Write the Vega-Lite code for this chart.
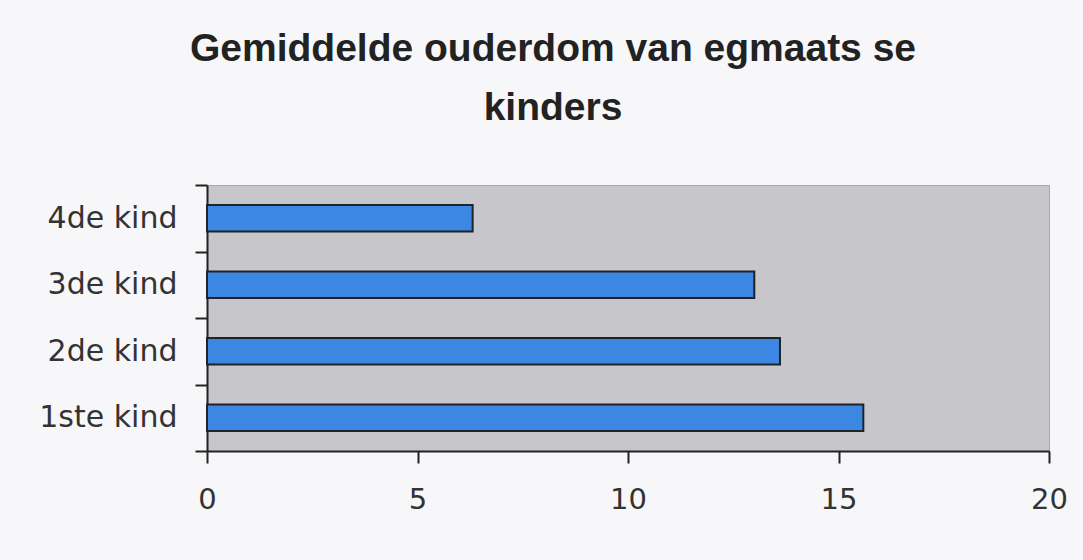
{
  "$schema": "https://vega.github.io/schema/vega-lite/v6.json",
  "width": 842,
  "height": 266,
  "autosize": {"type": "none"},
  "padding": {"left": 207, "top": 185, "right": 34, "bottom": 109},
  "background": "#f7f7f9",
  "title": {
    "text": ["Gemiddelde ouderdom van egmaats se", "kinders"],
    "font": "Liberation Sans",
    "fontSize": 39,
    "fontWeight": "bold",
    "color": "#222222",
    "lineHeight": 59,
    "anchor": "middle",
    "dx": -75,
    "baseline": "alphabetic",
    "offset": 11
  },
  "data": {
    "values": [
      {"kind": "1ste kind", "ouderdom": 15.59},
      {"kind": "2de kind", "ouderdom": 13.61},
      {"kind": "3de kind", "ouderdom": 13.0},
      {"kind": "4de kind", "ouderdom": 6.31}
    ]
  },
  "mark": {"type": "bar", "fill": "#3b87e2", "stroke": "#1f2228", "strokeWidth": 2, "height": {"band": 0.4}},
  "encoding": {
    "y": {
      "field": "kind",
      "type": "nominal",
      "sort": ["4de kind", "3de kind", "2de kind", "1ste kind"],
      "scale": {"paddingInner": 0, "paddingOuter": 0},
      "axis": {
        "title": null,
        "tickBand": "extent",
        "tickSize": 12,
        "tickColor": "#222222",
        "tickWidth": 2,
        "domainColor": "#222222",
        "domainWidth": 2,
        "labelFont": "DejaVu Sans",
        "labelFontSize": 30,
        "labelColor": "#333333",
        "labelPadding": 18
      }
    },
    "x": {
      "field": "ouderdom",
      "type": "quantitative",
      "scale": {"domain": [0, 20], "nice": false},
      "axis": {
        "title": null,
        "values": [0, 5, 10, 15, 20],
        "grid": false,
        "tickSize": 12,
        "tickColor": "#222222",
        "tickWidth": 2,
        "domainColor": "#222222",
        "domainWidth": 2,
        "labelFont": "DejaVu Sans",
        "labelFontSize": 29,
        "labelColor": "#333333",
        "labelPadding": 22,
        "labelFlush": false
      }
    }
  },
  "config": {
    "view": {"fill": "#c7c6cb", "stroke": "#a9a8ad", "strokeWidth": 1}
  }
}
